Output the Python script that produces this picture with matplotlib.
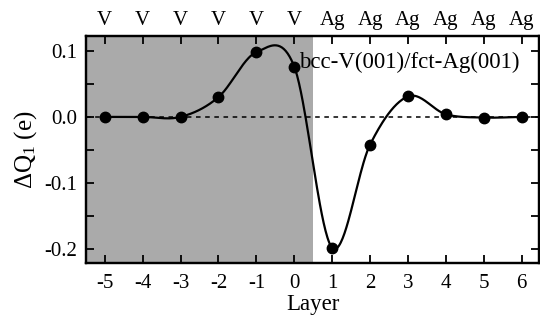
import numpy as np
import matplotlib
matplotlib.use("Agg")
import matplotlib.pyplot as plt
from matplotlib.ticker import MultipleLocator

plt.rcParams["font.family"] = ["Liberation Serif", "DejaVu Serif"]
plt.rcParams["mathtext.fontset"] = "custom"
plt.rcParams["mathtext.rm"] = "Liberation Serif"
plt.rcParams["mathtext.it"] = "Liberation Serif:italic"

# ---------- data ----------
layers = [-5, -4, -3, -2, -1, 0, 1, 2, 3, 4, 5, 6]
dq = [0.0, 0.0, 0.0, 0.03, 0.098, 0.076, -0.198, -0.042, 0.031, 0.004, -0.001, 0.0]
species = ["V", "V", "V", "V", "V", "V", "Ag", "Ag", "Ag", "Ag", "Ag", "Ag"]
interface = 0.5


def catmull_rom(x, y, n=40):
    """Smooth curve through the points (cubic Hermite, centred tangents)."""
    x = np.asarray(x, float); y = np.asarray(y, float)
    m = np.zeros_like(y)
    m[1:-1] = (y[2:] - y[:-2]) / (x[2:] - x[:-2])
    m[0] = (y[1] - y[0]) / (x[1] - x[0])
    m[-1] = (y[-1] - y[-2]) / (x[-1] - x[-2])
    xs, ys = [], []
    for i in range(len(x) - 1):
        h = x[i + 1] - x[i]
        t = np.linspace(0, 1, n, endpoint=False)
        h00 = 2 * t**3 - 3 * t**2 + 1
        h10 = t**3 - 2 * t**2 + t
        h01 = -2 * t**3 + 3 * t**2
        h11 = t**3 - t**2
        xs.append(x[i] + t * h)
        ys.append(h00 * y[i] + h10 * h * m[i] + h01 * y[i + 1] + h11 * h * m[i + 1])
    xs.append([x[-1]]); ys.append([y[-1]])
    return np.concatenate(xs), np.concatenate(ys)


fig = plt.figure(figsize=(5.4, 3.2), dpi=100)
ax = fig.add_axes([0.159, 0.177, 0.840, 0.711])

xlim = (-5.5, 6.47)
ax.axvspan(xlim[0], interface, color="#aaaaaa", lw=0, zorder=0)
ax.axhline(0, color="black", lw=1.1, ls=(0, (3, 3)), zorder=1)

xs, ys = catmull_rom(layers, dq)
ax.plot(xs, ys, color="black", lw=1.6, zorder=2)
ax.plot(layers, dq, "o", color="black", ms=7.5, zorder=3)

ax.text(0.12, 0.082, "bcc-V(001)/fct-Ag(001)", fontsize=16.5, va="center", ha="left", zorder=2.5)

ax.set_xlim(*xlim)
ax.set_ylim(-0.2217, 0.1227)
ax.set_xticks(layers)
ax.set_xticklabels([str(v) for v in layers])
ax.set_yticks([-0.2, -0.1, 0.0, 0.1])
ax.set_yticklabels(["-0.2", "-0.1", "0.0", "0.1"])
ax.yaxis.set_minor_locator(MultipleLocator(0.05))
ax.tick_params(which="both", direction="in", right=True, labelsize=15, width=1.3, length=6)
ax.tick_params(axis="x", top=False, pad=8)
ax.tick_params(axis="y", pad=6)
for sp in ax.spines.values():
    sp.set_linewidth(1.6)

ax.set_xlabel("Layer", fontsize=16.5)
ax.xaxis.set_label_coords(0.5, -0.135)
ax.set_ylabel(r"$\Delta$Q$_1$ (e)", fontsize=18, labelpad=4)

top = ax.twiny()
top.set_xlim(*xlim)
top.set_xticks(layers)
top.set_xticklabels(species)
top.tick_params(direction="in", length=6, width=1.3, labelsize=15, pad=4)
for sp in top.spines.values():
    sp.set_linewidth(1.6)

fig.savefig("out.png", dpi=100, facecolor="white")
